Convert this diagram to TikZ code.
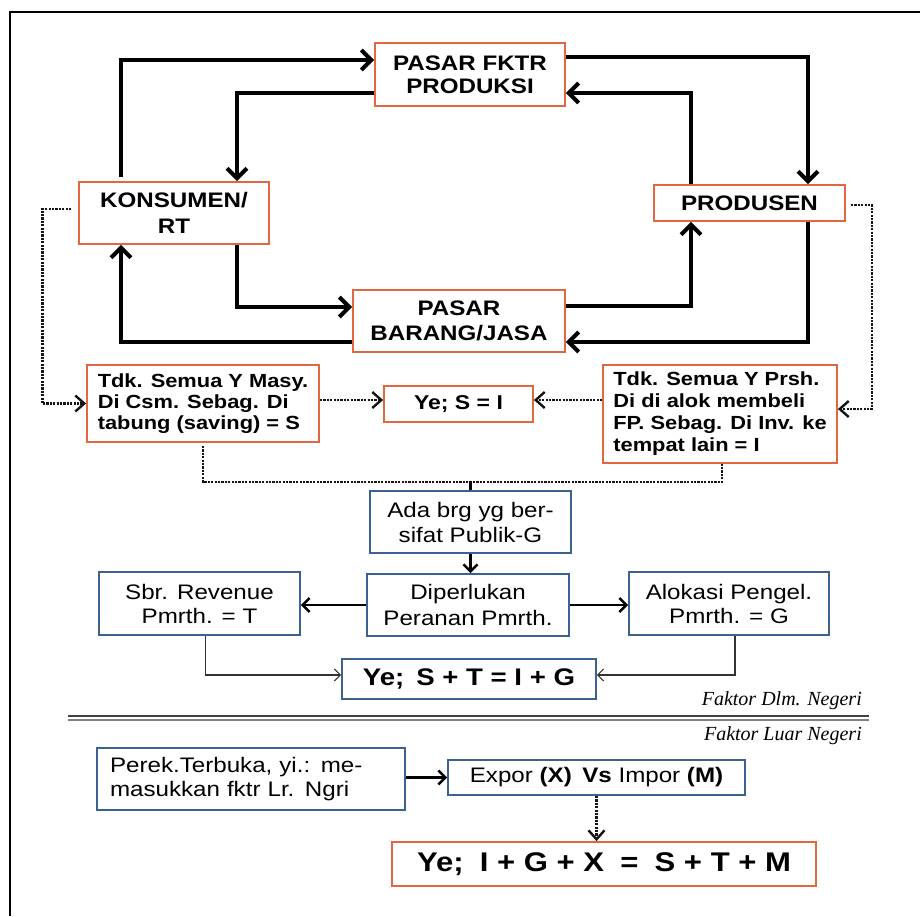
\documentclass[tikz,border=0pt]{standalone}
\usepackage{fontspec}
\newfontfamily\arialw{Liberation Sans}[FakeStretch=1.15]
\newfontfamily\serifit{Liberation Serif}
\usetikzlibrary{arrows.meta}
\definecolor{boxorange}{RGB}{226,102,66}
\definecolor{boxblue}{RGB}{60,98,145}
\definecolor{dotgray}{RGB}{20,20,20}
\newcommand\setfs[2]{\fontsize{#1}{#2}\selectfont}

\begin{document}
\begin{tikzpicture}[x=1pt,y=-1pt,
  obox/.style={draw=boxorange,line width=1.8pt,inner sep=0pt,align=center,fill=white},
  bbox/.style={draw=boxblue,line width=1.8pt,inner sep=0pt,align=center,fill=white},
  dims/.style 2 args={minimum width=#1pt,minimum height=#2pt},
  flowbig/.style={draw=black,line width=4pt,-{Straight Barb[length=10pt,width=20pt]}},
  flowmid/.style={draw=black,line width=2.5pt,-{Straight Barb[length=7pt,width=14pt]}},
  flowthin/.style={draw=black!80,line width=1.1pt,-{Straight Barb[length=6pt,width=12pt]}},
  dotline/.style={draw=dotgray,line width=2.8pt,dash pattern=on 2.2pt off 1.2pt},
  dotarrow/.style={dotline,-{Straight Barb[length=9pt,width=16pt,line width=2.4pt]}},
  capsfont/.style={font=\arialw\bfseries\setfs{21}{#1}},
  notefont/.style={font=\arialw\bfseries\setfs{19}{#1}},
  plainfont/.style={font=\arialw\setfs{21}{#1}},
  sidenote/.style={font=\serifit\itshape\setfs{20}{22},anchor=base east,inner sep=0pt}
]
\useasboundingbox (0,0) rectangle (920,916);

% outer frame
\draw[line width=1.5pt] (10,916) -- (10,12) -- (920,12);

% circular flow
\node[obox,dims={190}{63},capsfont=23] (pf) at (470,74.5) {PASAR FKTR\\PRODUKSI};
\node[obox,dims={190}{62},capsfont=26] (ks) at (174,213) {KONSUMEN/\\RT};
\node[obox,dims={191}{36},capsfont=23] (pr) at (749.5,203) {PRODUSEN};
\node[obox,dims={212}{62},capsfont=25] (pb) at (459,321) {PASAR\\BARANG/JASA};

\draw[flowbig] ([xshift=-53pt,yshift=4pt]ks.north) |- ([yshift=14.5pt]pf.west);
\draw[flowbig] ([yshift=-18.5pt]pf.west) -| ([xshift=63pt]ks.north);
\draw[flowbig] ([yshift=17.5pt]pf.east) -| ([xshift=58.5pt]pr.north);
\draw[flowbig] ([xshift=-58.5pt]pr.north) |- ([yshift=-18.5pt]pf.east);
\draw[flowbig] ([xshift=63pt]ks.south) |- ([yshift=14pt]pb.west);
\draw[flowbig] ([yshift=-21pt]pb.west) -| ([xshift=-53pt]ks.south);
\draw[flowbig] ([yshift=15pt]pb.east) -| ([xshift=-58.5pt]pr.south);
\draw[flowbig] ([xshift=58.5pt]pr.south) |- ([yshift=-21pt]pb.east);

% savings and investment
\node[obox,dims={232}{77},notefont=21,align=left] (tl) at (203,403.5)
  {Tdk. Semua Y Masy.\\Di Csm. Sebag. Di\\tabung (saving) = S};
\node[obox,dims={149}{36},font=\arialw\bfseries\setfs{20}{22}] (ye1) at (458.5,404) {Ye; S = I};
\node[obox,dims={234}{98},notefont=22,align=left] (tr) at (720,414)
  {Tdk. Semua Y Prsh.\\Di di alok membeli\\FP. Sebag. Di Inv. ke\\tempat lain = I};

\draw[dotarrow] ([xshift=-7pt,yshift=4pt]ks.west) -- ++(-29,0) |- (tl.west);
\draw[dotarrow] ([xshift=5pt,yshift=-2pt]pr.east) -- ++(21,0) |- ([yshift=5pt]tr.east);
\draw[dotarrow] ([yshift=3.5pt]tl.east) -- ([yshift=4pt]ye1.west);
\draw[dotarrow] ([yshift=14pt]tr.west) -- ([yshift=4pt]ye1.east);

% government sector
\node[bbox,dims={201}{62},plainfont=25] (ada) at (470.5,522) {Ada brg yg ber-\\sifat Publik-G};
\node[bbox,dims={202}{62},plainfont=26] (dip) at (468,605) {Diperlukan\\Peranan Pmrth.};
\node[bbox,dims={201}{63},plainfont=24] (sbr) at (199.5,603.5) {Sbr. Revenue\\Pmrth. = T};
\node[bbox,dims={200}{63},plainfont=24] (alo) at (729,603.5) {Alokasi Pengel.\\Pmrth. = G};
\node[bbox,dims={254}{40},font=\arialw\bfseries\setfs{24}{26}] (ye2) at (469,679)
  {Ye;\hspace{0.5em}S + T = I + G};

\draw[dotline] ([yshift=-3pt]tl.south) |- ([xshift=2pt,yshift=-18pt]tr.south) -- ([xshift=2pt]tr.south);
\draw[line width=2.5pt] (ada.north) -- ++(0,-9);
\draw[flowmid] (ada.south) -- (ada.south |- dip.north);
\draw[flowmid] (dip.west) -- (sbr.east |- dip.west);
\draw[flowmid] (dip.east) -- (alo.west |- dip.east);
\draw[flowthin] ([xshift=6pt]sbr.south) |- ([yshift=4pt]ye2.west);
\draw[flowthin] ([xshift=6pt]alo.south) |- ([yshift=4pt]ye2.east);

% divider between domestic and foreign factors
\node[sidenote] (dlm) at (862,705) {Faktor Dlm. Negeri};
\draw[line width=2pt,black!75] (68,716) -- (869,716);
\draw[line width=1.5pt,black!50] (68,720) -- (869,720);
\node[sidenote] (luar) at (862,740) {Faktor Luar Negeri};

% foreign sector
\node[bbox,dims={308}{62},plainfont=24,align=left,text width=282pt,inner xsep=13pt] (per) at (251,779)
  {Perek.Terbuka, yi.: me-\\masukkan fktr Lr. Ngri};
\node[bbox,dims={297}{35},plainfont=23] (exp) at (596.5,777.5)
  {Expor \textbf{(X)}\hspace{0.5em}\textbf{Vs} Impor \textbf{(M)}};
\node[obox,dims={424}{44},font=\arialw\bfseries\setfs{27}{29}] (ye3) at (604,864)
  {Ye;\hspace{0.6em}I + G + X\hspace{0.6em}=\hspace{0.6em}S + T + M};

\draw[flowmid] (per.east |- exp.west) -- (exp.west);
\draw[dotarrow] (exp.south) -- (exp.south |- ye3.north);
\end{tikzpicture}
\end{document}
